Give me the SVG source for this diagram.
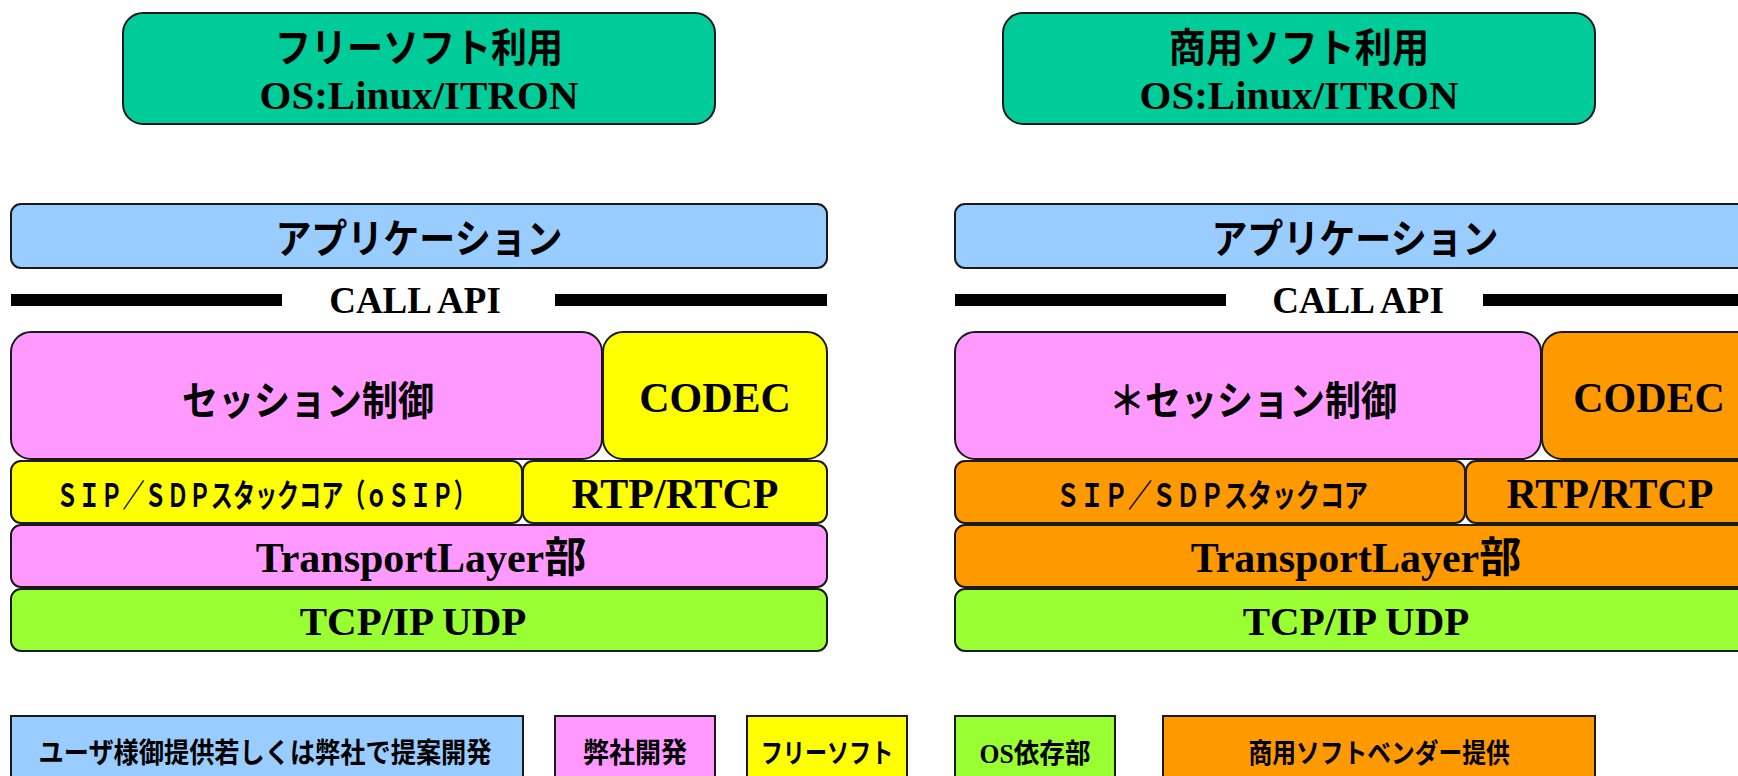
<svg xmlns="http://www.w3.org/2000/svg" width="1738" height="776" viewBox="0 0 1738 776">
<style>
.bx{stroke:#1a1a1a;stroke-width:2}
.teal{fill:#00CC99}.blue{fill:#99CCFF}.pink{fill:#FF99FF}.yel{fill:#FFFF00}.grn{fill:#99FF33}.org{fill:#FF9900}
.jp{font-family:"Noto Sans CJK JP","Noto Sans",sans-serif;font-weight:bold;fill:#000;text-anchor:middle}
.ser{font-family:"Liberation Serif","Noto Sans CJK JP",serif;font-weight:bold;fill:#000;text-anchor:middle}
.bar{fill:#000}
</style>
<rect width="1738" height="776" fill="#fff"/>

<g id="top-free">
<rect class="bx teal" x="123" y="13" width="592" height="111" rx="20"/>
<text class="jp" transform="translate(419,62) scale(0.9,1)" font-size="40">フリーソフト利用</text>
<text class="ser" x="419" y="109" font-size="41">OS:Linux/ITRON</text>
</g>
<g id="top-commercial">
<rect class="bx teal" x="1003" y="13" width="592" height="111" rx="20"/>
<text class="jp" transform="translate(1299,62) scale(0.93,1)" font-size="40">商用ソフト利用</text>
<text class="ser" x="1299" y="109" font-size="41">OS:Linux/ITRON</text>
</g>

<g id="left-app">
<rect class="bx blue" x="11" y="204" width="816" height="64" rx="10"/>
<text class="jp" transform="translate(419,253) scale(0.9,1)" font-size="40">アプリケーション</text>
</g>
<g id="call-api-left">
<rect class="bar" x="11" y="294" width="271" height="12"/>
<rect class="bar" x="555" y="294" width="272" height="12"/>
<text class="ser" x="415" y="313" font-size="37">CALL API</text>
</g>
<g id="left-session">
<rect class="bx pink" x="11" y="332" width="591" height="127" rx="20"/>
<text class="jp" transform="translate(308,415) scale(0.9,1)" font-size="40">セッション制御</text>
</g>
<g id="left-codec">
<rect class="bx yel" x="603" y="332" width="224" height="127" rx="20"/>
<text class="ser" x="715" y="412" font-size="42">CODEC</text>
</g>
<g id="left-sip">
<rect class="bx yel" x="11" y="461" width="511" height="62" rx="10"/>
<text class="jp" transform="translate(266,507) scale(0.69,1)" font-size="32">ＳＩＰ／ＳＤＰスタックコア（ｏＳＩＰ）</text>
</g>
<g id="left-rtp">
<rect class="bx yel" x="523" y="461" width="304" height="62" rx="10"/>
<text class="ser" x="675" y="508" font-size="42">RTP/RTCP</text>
</g>
<g id="left-transport">
<rect class="bx pink" x="11" y="525" width="816" height="62" rx="10"/>
<text class="ser" x="421" y="572" font-size="42">TransportLayer部</text>
</g>
<g id="left-tcp">
<rect class="bx grn" x="11" y="589" width="816" height="62" rx="10"/>
<text class="ser" x="413" y="635" font-size="41">TCP/IP UDP</text>
</g>

<g id="right-app">
<rect class="bx blue" x="955" y="204" width="810" height="64" rx="10"/>
<text class="jp" transform="translate(1355,253) scale(0.9,1)" font-size="40">アプリケーション</text>
</g>
<g id="call-api-right">
<rect class="bar" x="955" y="294" width="271" height="12"/>
<rect class="bar" x="1483" y="294" width="280" height="12"/>
<text class="ser" x="1358" y="313" font-size="37">CALL API</text>
</g>
<g id="right-session">
<rect class="bx pink" x="955" y="332" width="586" height="127" rx="20"/>
<text class="jp" transform="translate(1253,415) scale(0.9,1)" font-size="40">＊セッション制御</text>
</g>
<g id="right-codec">
<rect class="bx org" x="1542" y="332" width="224" height="127" rx="20"/>
<text class="ser" x="1649" y="412" font-size="42">CODEC</text>
</g>
<g id="right-sip">
<rect class="bx org" x="955" y="461" width="510" height="62" rx="10"/>
<text class="jp" transform="translate(1212,507) scale(0.75,1)" font-size="32">ＳＩＰ／ＳＤＰスタックコア</text>
</g>
<g id="right-rtp">
<rect class="bx org" x="1466" y="461" width="304" height="62" rx="10"/>
<text class="ser" x="1610" y="508" font-size="42">RTP/RTCP</text>
</g>
<g id="right-transport">
<rect class="bx org" x="955" y="525" width="810" height="62" rx="10"/>
<text class="ser" x="1356" y="572" font-size="42">TransportLayer部</text>
</g>
<g id="right-tcp">
<rect class="bx grn" x="955" y="589" width="810" height="62" rx="10"/>
<text class="ser" x="1356" y="635" font-size="41">TCP/IP UDP</text>
</g>

<g id="legend-user">
<rect class="bx blue" x="11" y="716" width="512" height="80"/>
<text class="jp" transform="translate(265,763) scale(0.9,1)" font-size="28">ユーザ様御提供若しくは弊社で提案開発</text>
</g>
<g id="legend-own">
<rect class="bx pink" x="555" y="716" width="160" height="80"/>
<text class="jp" transform="translate(635,763) scale(0.93,1)" font-size="28">弊社開発</text>
</g>
<g id="legend-free">
<rect class="bx yel" x="747" y="716" width="160" height="80"/>
<text class="jp" transform="translate(827,763) scale(0.82,1)" font-size="27">フリーソフト</text>
</g>
<g id="legend-os">
<rect class="bx grn" x="955" y="716" width="160" height="80"/>
<text class="ser" transform="translate(1035,763) scale(0.95,1)" font-size="27">OS依存部</text>
</g>
<g id="legend-vendor">
<rect class="bx org" x="1163" y="716" width="432" height="80"/>
<text class="jp" transform="translate(1379,763) scale(0.88,1)" font-size="27">商用ソフトベンダー提供</text>
</g>
<g id="connectors"/>
</svg>
